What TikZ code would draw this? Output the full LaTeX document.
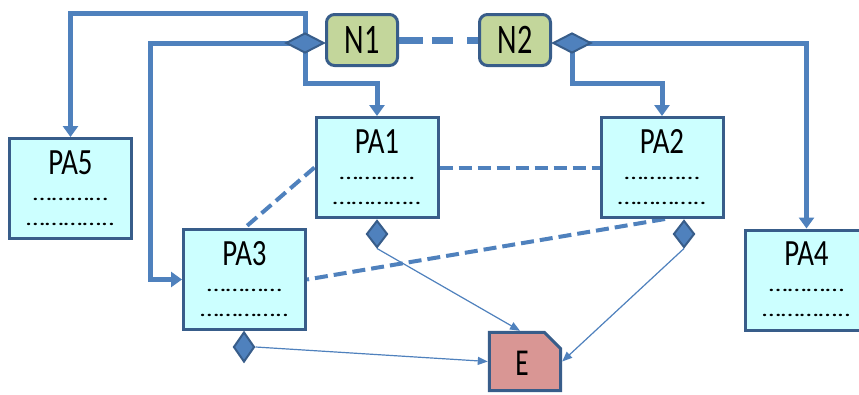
\documentclass[tikz,border=0pt]{standalone}
\usepackage{fontspec}
\setmainfont{Carlito}
\usetikzlibrary{arrows.meta,shapes.geometric,calc}

\definecolor{boxfill}{HTML}{CCFFFF}
\definecolor{boxline}{HTML}{385D8A}
\definecolor{link}{HTML}{4F81BD}
\definecolor{nfill}{HTML}{C3D69B}
\definecolor{efill}{HTML}{D99694}

\newcommand\narrow[2]{\scalebox{#1}[1]{#2}}

\pgfdeclarelayer{bg}
\pgfdeclarelayer{lines}
\pgfsetlayers{bg,lines,main}

\tikzset{
  pabox/.style={draw=boxline, fill=boxfill, line width=3pt,
    minimum width=122pt, minimum height=100pt, inner sep=0pt},
  patitle/.style={inner sep=0pt, font=\fontsize{37}{37}\selectfont},
  padots/.style={inner sep=0pt, font=\fontsize{20}{20}\selectfont},
  nbox/.style={draw=boxline, fill=nfill, line width=3pt, rounded corners=8pt,
    minimum width=71pt, minimum height=51pt, inner sep=0pt,
    font=\fontsize{42}{42}\selectfont},
  hdiam/.style={diamond, draw=boxline, fill=link, line width=2pt,
    minimum width=38pt, minimum height=20pt, inner sep=0pt},
  vdiam/.style={diamond, draw=boxline, fill=link, line width=2pt,
    minimum width=21pt, minimum height=27pt, inner sep=0pt},
  trunk/.style={draw=link, line width=5pt},
  trunkarrow/.style={trunk, -{Triangle[width=15pt,length=11pt]}},
  peer/.style={draw=link, line width=4pt, dash pattern=on 13pt off 6pt},
  nlink/.style={draw=link, line width=7pt, dash pattern=on 24pt off 9pt on 21pt off 14pt},
  thin/.style={draw=link, line width=1.2pt, -{Triangle[width=8pt,length=10pt]}},
}

\begin{document}
\begin{tikzpicture}[x=1pt,y=-1pt]
\useasboundingbox (0,0) rectangle (859,394);
\begin{pgfonlayer}{bg}
  \fill[white] (0,0) rectangle (859,394);
\end{pgfonlayer}

% control nodes
\node[nbox] (N1) at (362,40) {\narrow{0.72}{N1}};
\node[nbox] (N2) at (515,40) {\narrow{0.72}{N2}};

% process boxes
\foreach \name/\px/\py in {PA1/377/167.5, PA2/662/167.5, PA3/244.5/279.5, PA4/806.5/280, PA5/70.5/188.5}{
  \node[pabox] (\name) at (\px,\py) {};
  \node[patitle] (\name-t) at ($(\name.north)+(0,25.5)$) {\narrow{0.78}{\name}};
  \node[padots] (\name-a) at ($(\name.north)+(0,62)$) {\narrow{1.36}{…………}};
  \node[padots] (\name-b) at ($(\name.north)+(0,87)$) {\narrow{1.36}{…………..}};
}

% end state
\node[inner sep=0pt, minimum width=74pt, minimum height=61pt] (E) at (525,361.5) {};
\draw[boxline, fill=efill, line width=3pt, line join=miter]
  ($(E.south west)+(1.5,-1.5)$) -- ($(E.north west)+(1.5,1.5)$)
  -- ($(E.north east)+(-18,1.5)$) -- ($(E.north east)+(-1.5,18)$)
  -- ($(E.south east)+(-1.5,-1.5)$) -- cycle;
\node[inner sep=0pt, font=\fontsize{38}{38}\selectfont] (E-t) at ($(E.center)+(-3,2)$) {\narrow{0.72}{E}};

% connection diamonds
\node[hdiam] (dN1) at (305,43) {};
\node[hdiam] (dN2) at (572,43) {};
\node[vdiam] (dPA1) at (377,234) {};
\node[vdiam] (dPA2) at (684,234) {};
\node[vdiam, minimum height=30pt] (dPA3) at (244,347) {};

\begin{pgfonlayer}{lines}
  % links from the control nodes
  \draw[trunkarrow] (dN1.center) -- (dN1.center |- 0,13) -| (PA5.north);
  \draw[trunkarrow] (dN1.center) -- (dN1.center |- 0,83) -| (PA1.north);
  \draw[trunkarrow] (dN1.center) -- (150,43) |- (PA3.west);
  \draw[trunkarrow] (dN2.center) -| (PA4.north);
  \draw[trunkarrow] (dN2.center) -- (dN2.center |- 0,83) -| (PA2.north);
  \draw[nlink] (N1.east) -- (N2.west);
  % peer links between boxes
  \draw[peer] (PA1.east) -- (PA2.west);
  \draw[peer] (PA1.west) -- (PA3.north);
  \draw[peer] ($(PA2.south)+(3,0)$) -- (PA3.east);
  % flows into the end state
  \draw[thin] (dPA1.south) -- ($(E.north)+(-5,0)$);
  \draw[thin] (dPA2.south) -- (E.east);
  \draw[thin] (dPA3.east) -- (E.west);
\end{pgfonlayer}
\end{tikzpicture}
\end{document}
